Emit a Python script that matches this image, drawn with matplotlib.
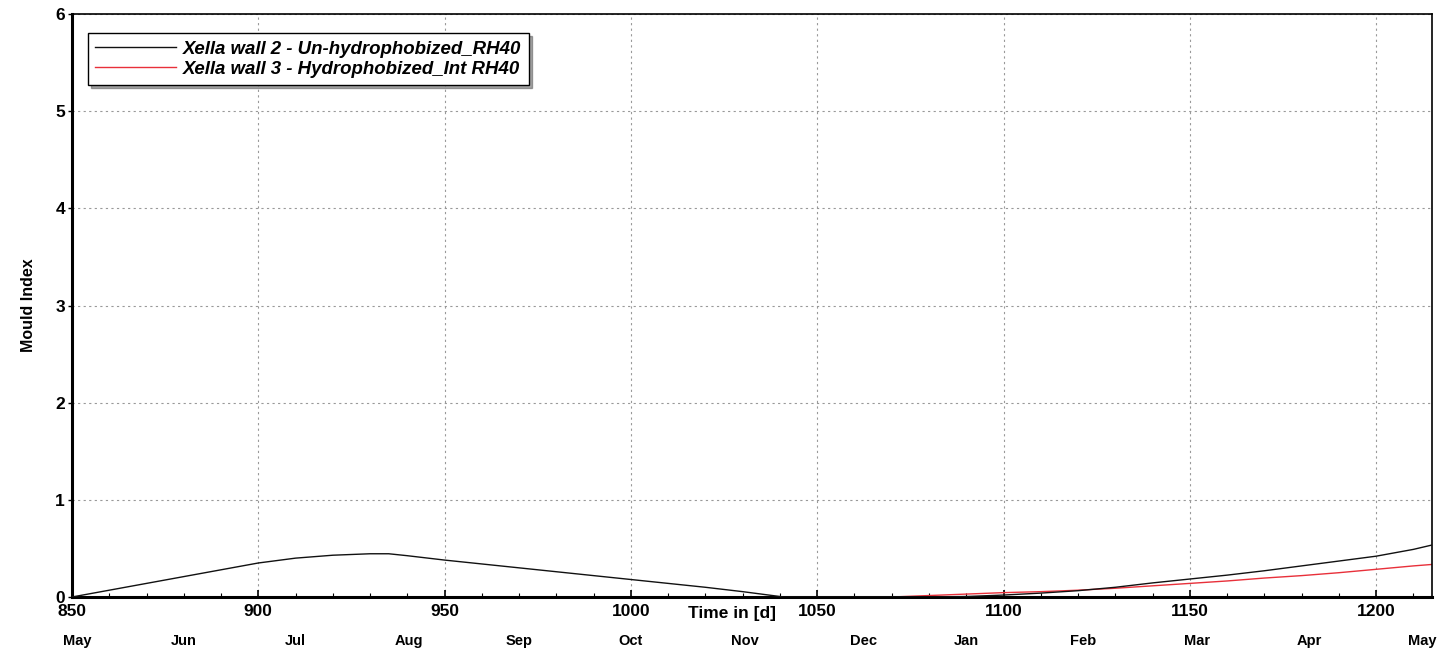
import matplotlib
matplotlib.use("Agg")
import matplotlib.pyplot as plt
from matplotlib.ticker import MultipleLocator
import matplotlib.transforms as mtrans

plt.rcParams['font.family'] = ['Liberation Sans', 'DejaVu Sans']

# Data
black_t = [850, 860, 870, 880, 890, 900, 910, 920, 930, 935, 940, 950, 960, 970, 980, 990, 1000,
           1010, 1020, 1030, 1041, 1060, 1080, 1090, 1100, 1110, 1120, 1130, 1140, 1150, 1160,
           1170, 1180, 1190, 1200, 1210, 1215]
black_v = [0.0, 0.07, 0.14, 0.21, 0.28, 0.35, 0.40, 0.43, 0.445, 0.445, 0.425, 0.38, 0.34, 0.30,
           0.26, 0.22, 0.18, 0.14, 0.10, 0.055, 0.0, 0.0, 0.0, 0.005, 0.02, 0.04, 0.065, 0.10,
           0.145, 0.185, 0.225, 0.27, 0.32, 0.37, 0.42, 0.49, 0.535]
red_t = [850, 1070, 1080, 1090, 1100, 1110, 1120, 1130, 1140, 1150, 1160, 1170, 1180, 1190,
         1200, 1210, 1215]
red_v = [0.0, 0.0, 0.015, 0.03, 0.045, 0.055, 0.07, 0.09, 0.115, 0.14, 0.165, 0.195, 0.22,
         0.25, 0.285, 0.32, 0.335]

months = ["May", "Jun", "Jul", "Aug", "Sep", "Oct", "Nov", "Dec", "Jan", "Feb", "Mar", "Apr", "May"]
month_pos = [851.5, 880, 910, 940.5, 970, 1000, 1030.5, 1062.5, 1090, 1121.5, 1152, 1182, 1212.5]

label1 = "Xella wall 2 - Un-hydrophobized_RH40"
label2 = "Xella wall 3 - Hydrophobized_Int RH40"

fig = plt.figure(figsize=(14.54, 6.52), dpi=100)
ax = fig.add_axes([72/1454, 55/652, 1360/1454, 583/652])

ax.plot(red_t, red_v, color="#e8303a", lw=1.0, label=label2, zorder=2)
ax.plot(black_t, black_v, color="#111111", lw=1.0, label=label1, zorder=3)

ax.set_xlim(850, 1215)
ax.set_ylim(0, 6)
ax.xaxis.set_major_locator(MultipleLocator(50))
ax.xaxis.set_minor_locator(MultipleLocator(10))
ax.yaxis.set_major_locator(MultipleLocator(1))
ax.grid(True, which="major", color="#999999", linestyle=(0, (2, 3)), lw=0.8)
ax.tick_params(axis="x", which="major", direction="in", length=5, width=1.2, labelsize=12.5, pad=5)
ax.tick_params(axis="x", which="minor", direction="in", length=3, width=0.8)
ax.tick_params(axis="y", which="major", direction="out", length=3, width=1.0, labelsize=12.5, pad=2)
for lab in ax.get_xticklabels() + ax.get_yticklabels():
    lab.set_fontweight("bold")
for s in ["left", "bottom"]:
    ax.spines[s].set_linewidth(2.2)
for s in ["right", "top"]:
    ax.spines[s].set_linewidth(1.2)

ax.set_ylabel("Mould Index", fontsize=11.5, fontweight="bold", labelpad=14)

trans = mtrans.blended_transform_factory(ax.transData, ax.transAxes)
ax.text(1027, -0.029, "Time in [d]", transform=trans, ha="center", va="center",
        fontsize=12.5, fontweight="bold")
for m, p in zip(months, month_pos):
    ax.text(p, -0.0755, m, transform=trans, ha="center", va="center", fontsize=10.5,
            fontweight="bold")

handles, labels = ax.get_legend_handles_labels()
leg = ax.legend(handles[::-1], labels[::-1], loc="upper left", bbox_to_anchor=(0.0118, 0.967),
                borderaxespad=0.0,
                frameon=True, fancybox=False, shadow=True, handlelength=4.3,
                prop={"weight": "bold", "style": "italic", "size": 13.4},
                borderpad=0.4, labelspacing=0.15, handletextpad=0.4)
leg.get_frame().set_edgecolor("black")
leg.get_frame().set_linewidth(1.0)

fig.savefig("out.png", dpi=100)
